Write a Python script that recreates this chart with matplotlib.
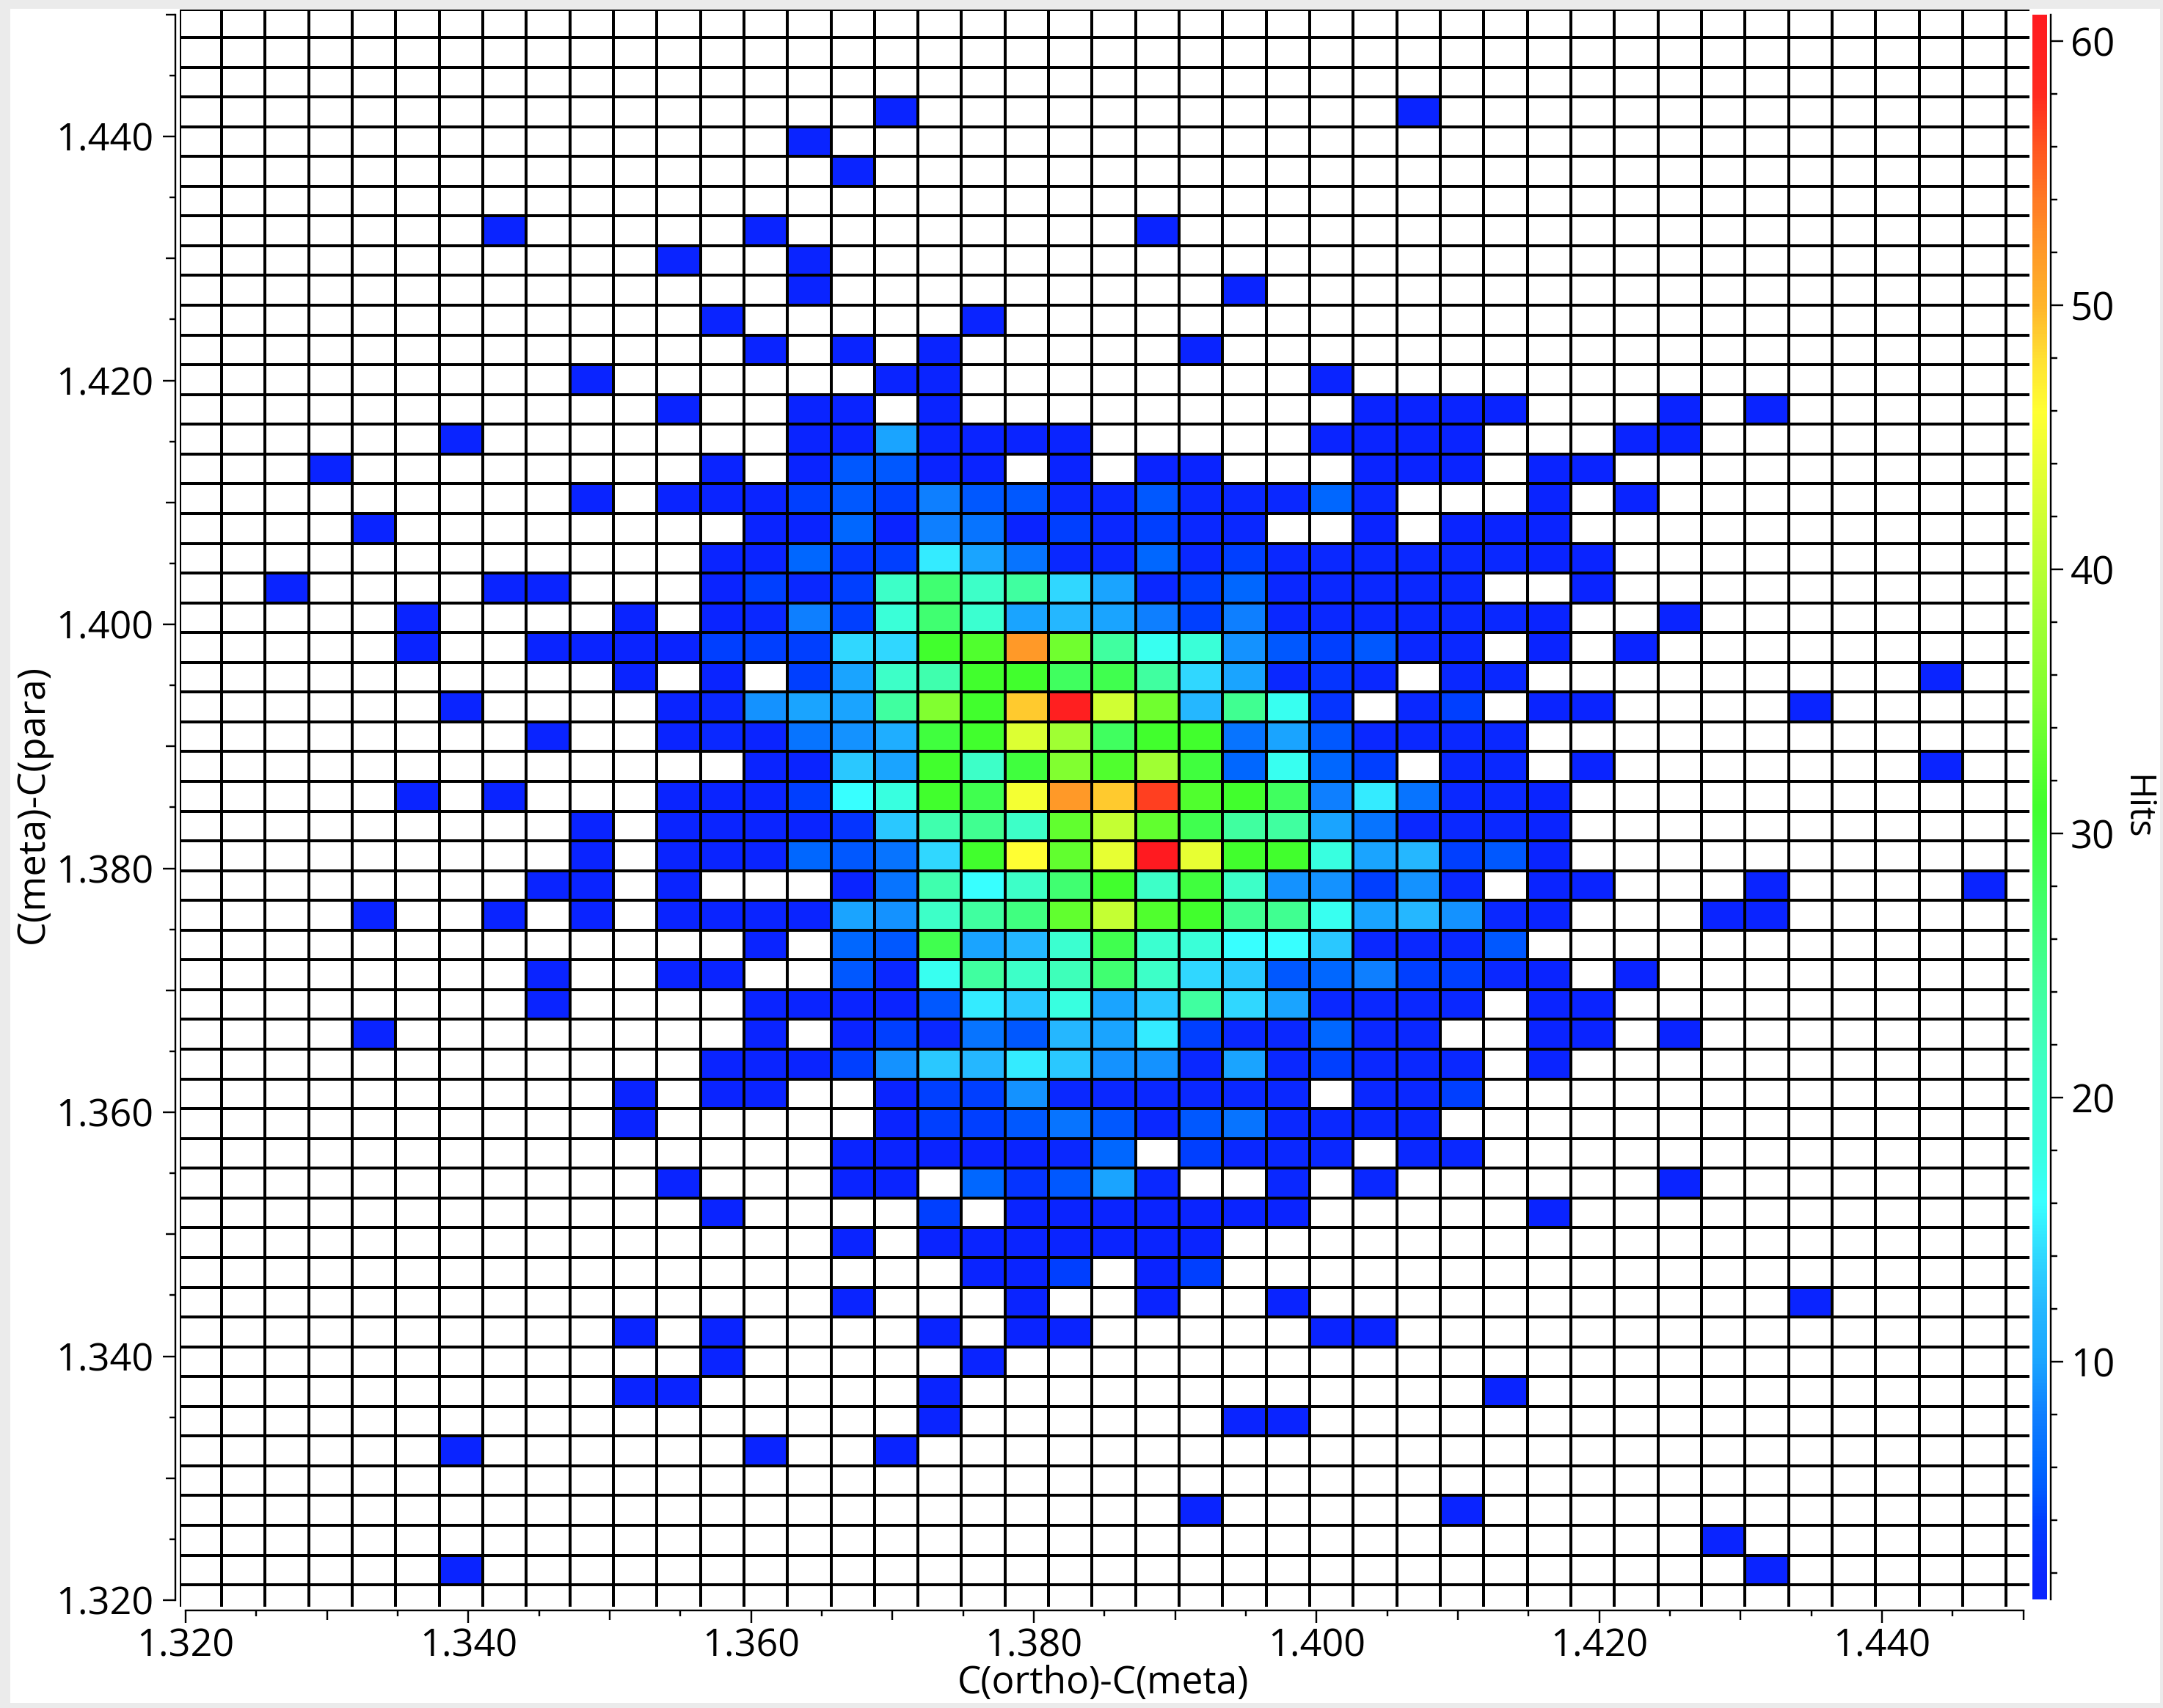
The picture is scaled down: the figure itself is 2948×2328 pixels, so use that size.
import matplotlib
matplotlib.use('Agg')
import matplotlib.pyplot as plt
import numpy as np
from matplotlib.colors import LinearSegmentedColormap, Normalize
from matplotlib.patches import Rectangle
from matplotlib.ticker import FixedLocator, FormatStrFormatter

plt.rcParams['font.family'] = ['Open Sans', 'DejaVu Sans']

W, H, DPI = 2948, 2328, 100
PT = 72 / DPI  # points per pixel

# Bin layout
x_first_line = 1.32254
x_step = 0.003079
y_first_line = 1.44812
y_step = 0.0024397
n_cols = 43
n_rows = 54
x_range = (1.31958, 1.45043)
y_range = (1.31946, 1.45043)

x_major = [1.32, 1.34, 1.36, 1.38, 1.40, 1.42, 1.44]
y_major = [1.32, 1.34, 1.36, 1.38, 1.40, 1.42, 1.44]
x_label = 'C(ortho)-C(meta)'
y_label = 'C(meta)-C(para)'
bar_label = 'Hits'
bar_major = [10, 20, 30, 40, 50, 60]
bar_minor = [2, 4, 6, 8, 12, 14, 16, 18, 22, 24, 26, 28, 32, 34, 36, 38, 42, 44, 46, 48, 52, 54, 56, 58]

# Colour scale: value, colour
scale_values = [1, 2, 4, 5, 6, 8, 10, 12, 14, 16, 18, 21, 24, 27, 31, 35, 38, 42, 46, 48, 50, 52, 54, 56, 58, 61]
scale_colors = ['#0a24ff', '#0a28ff', '#0040ff', '#0058ff', '#0068ff', '#0f80ff', '#1aa5ff', '#25b8ff',
                '#30d8ff', '#38ffff', '#38ffe0', '#3dffc8', '#40ffa0', '#40ff70', '#40ff2d', '#80ff30',
                '#a0ff33', '#d0ff33', '#ffff33', '#ffe033', '#ffb52a', '#ff9a28', '#ff7a25', '#ff5520',
                '#ff2a20', '#ff1a20']

# Hits in the dense part: rows 12 to 42 from the top, columns 11 to 30 from the left
core_first_row = 12
core_first_col = 11
core_hits = [
    [0, 0, 0, 0, 0, 1, 1, 0, 0, 0, 0, 0, 0, 0, 0, 1, 0, 0, 0, 0],
    [1, 0, 0, 1, 1, 0, 1, 0, 0, 0, 0, 0, 0, 0, 0, 0, 1, 1, 1, 1],
    [0, 0, 0, 1, 1, 10, 1, 1, 1, 1, 0, 0, 0, 0, 0, 1, 1, 1, 1, 0],
    [0, 1, 0, 1, 5, 5, 1, 1, 0, 1, 0, 1, 1, 0, 0, 0, 1, 1, 1, 0],
    [1, 1, 1, 4, 5, 4, 8, 5, 5, 2, 2, 5, 2, 2, 2, 6, 2, 0, 0, 0],
    [0, 0, 1, 1, 6, 1, 8, 7, 1, 4, 2, 4, 2, 2, 0, 0, 1, 0, 1, 1],
    [0, 1, 1, 6, 3, 4, 15, 10, 7, 2, 2, 6, 2, 4, 2, 2, 2, 2, 2, 2],
    [0, 1, 4, 2, 4, 21, 27, 21, 24, 14, 10, 2, 4, 6, 2, 2, 2, 2, 2, 0],
    [0, 1, 2, 8, 4, 19, 27, 20, 10, 12, 10, 8, 4, 8, 2, 2, 2, 2, 2, 2],
    [1, 4, 4, 4, 14, 14, 31, 32, 52, 34, 24, 17, 19, 9, 5, 4, 5, 2, 2, 0],
    [0, 1, 0, 4, 10, 21, 23, 31, 31, 28, 29, 24, 14, 10, 2, 3, 2, 0, 2, 2],
    [1, 2, 9, 10, 10, 24, 35, 31, 49, 60, 42, 34, 12, 25, 17, 3, 0, 2, 4, 0],
    [1, 2, 1, 7, 9, 11, 30, 31, 43, 38, 28, 31, 31, 7, 10, 5, 2, 2, 2, 2],
    [0, 0, 1, 1, 13, 10, 31, 21, 30, 35, 32, 38, 30, 6, 17, 6, 4, 0, 2, 2],
    [1, 1, 1, 4, 16, 18, 31, 29, 45, 52, 49, 57, 32, 31, 28, 8, 15, 7, 2, 2],
    [1, 1, 1, 1, 3, 13, 23, 25, 21, 33, 41, 33, 29, 24, 24, 10, 7, 2, 2, 2],
    [1, 1, 1, 6, 5, 7, 14, 31, 46, 33, 44, 61, 44, 31, 31, 18, 10, 12, 4, 5],
    [1, 0, 0, 0, 1, 7, 23, 16, 21, 27, 31, 21, 30, 21, 9, 9, 4, 9, 2, 0],
    [1, 1, 1, 1, 10, 9, 21, 24, 26, 33, 41, 32, 31, 25, 25, 17, 10, 12, 9, 2],
    [0, 0, 1, 0, 6, 5, 29, 10, 12, 20, 29, 20, 19, 16, 16, 13, 2, 2, 2, 5],
    [1, 1, 0, 0, 5, 2, 17, 24, 21, 22, 27, 21, 14, 13, 5, 6, 8, 4, 4, 2],
    [0, 0, 1, 1, 1, 1, 5, 15, 13, 18, 10, 13, 24, 14, 10, 2, 2, 2, 2, 0],
    [0, 0, 1, 0, 1, 4, 2, 7, 5, 12, 10, 15, 4, 2, 2, 6, 2, 2, 0, 0],
    [0, 1, 1, 1, 4, 9, 13, 12, 15, 13, 9, 9, 2, 10, 2, 4, 2, 2, 2, 0],
    [0, 1, 1, 0, 0, 1, 4, 4, 9, 2, 2, 2, 2, 2, 2, 0, 2, 2, 4, 0],
    [0, 0, 0, 0, 0, 1, 4, 4, 5, 7, 5, 2, 5, 7, 2, 2, 2, 2, 0, 0],
    [0, 0, 0, 0, 1, 1, 1, 1, 1, 2, 6, 0, 4, 2, 2, 2, 0, 2, 2, 0],
    [1, 0, 0, 0, 1, 1, 0, 6, 3, 5, 10, 2, 0, 0, 2, 0, 2, 0, 0, 0],
    [0, 1, 0, 0, 0, 0, 4, 0, 1, 1, 1, 1, 1, 1, 1, 0, 0, 0, 0, 0],
    [0, 0, 0, 0, 1, 0, 1, 1, 1, 1, 1, 1, 1, 0, 0, 0, 0, 0, 0, 0],
    [0, 0, 0, 0, 0, 0, 0, 1, 1, 4, 0, 1, 4, 0, 0, 0, 0, 0, 0, 0],
]

# Scattered single hits outside that block: row -> columns
single_hits = {
    3: [16, 28], 4: [14], 5: [15], 7: [7, 13, 22], 8: [11, 14], 9: [14, 24],
    10: [12, 18], 11: [13, 15, 17, 23], 12: [9], 13: [34, 36], 14: [6, 33, 34],
    15: [3, 31, 32], 16: [9, 31, 33], 17: [4, 31], 18: [31, 32],
    19: [2, 7, 8, 32], 20: [5, 10, 31, 34], 21: [5, 8, 9, 10, 31, 33],
    22: [10, 40], 23: [6, 31, 32, 37], 24: [8], 25: [32, 40], 26: [5, 7, 31],
    27: [9, 31], 28: [9, 31], 29: [8, 9, 31, 32, 36, 41], 30: [4, 7, 9, 31, 35, 36],
    32: [8, 31, 33], 33: [8, 31, 32], 34: [4, 31, 32, 34], 35: [31], 36: [10], 37: [10],
    39: [34], 40: [31], 43: [15, 19, 22, 25, 37],
    44: [10, 12, 17, 19, 20, 26, 27], 45: [12, 18], 46: [10, 11, 17, 30],
    47: [17, 24, 25], 48: [6, 13, 16], 50: [23, 29], 51: [35], 52: [6, 36],
}


def pxBox(left, top, right, bottom):  # pixel box of the picture to figure fractions
    return [left / W, 1 - bottom / H, (right - left) / W, (bottom - top) / H]


def buildGrid():
    grid = np.zeros((n_rows, n_cols))
    core = np.array(core_hits)
    grid[core_first_row:core_first_row + core.shape[0],
         core_first_col:core_first_col + core.shape[1]] = core
    for row, cols in single_hits.items():
        for col in cols:
            grid[row, col] = 1
    return grid


def setTicks(axis, major, limits):
    minor = [v for v in np.arange(limits[0], limits[1] + 0.001, 0.005)
             if min(abs(v - m) for m in major) > 0.001]
    axis.set_major_locator(FixedLocator(major))
    axis.set_minor_locator(FixedLocator(minor))
    axis.set_major_formatter(FormatStrFormatter('%.3f'))
    for tick, v in zip(axis.get_minor_ticks(), minor):
        # every 0.01 the tick is a bit longer
        if abs(v * 100 - round(v * 100)) < 0.01:
            tick.tick1line.set_markersize(13 * PT)


hits = buildGrid()

x_edges = x_first_line + x_step * np.arange(-1, n_cols)
x_edges[0] = x_range[0]
y_edges = y_first_line - y_step * np.arange(-1, n_rows)
y_edges[0] = y_range[1]

stops = (np.array(scale_values) - scale_values[0]) / (scale_values[-1] - scale_values[0])
cmap = LinearSegmentedColormap.from_list('hits', list(zip(stops, scale_colors)), N=512)
cmap.set_under('white')
norm = Normalize(vmin=1, vmax=61)

fig = plt.figure(figsize=(W / DPI, H / DPI), dpi=DPI, facecolor='#ebebeb')
fig.add_artist(Rectangle((14 / W, 1 - 2321 / H), (2944 - 14) / W, (2321 - 11.5) / H,
                         transform=fig.transFigure, facecolor='white', edgecolor='none', zorder=-1))

ax = fig.add_axes(pxBox(245, 12.6, 2766, 2190))
ax.patch.set_alpha(0)
mesh = ax.pcolormesh(x_edges, y_edges, hits, cmap=cmap, norm=norm,
                     edgecolors='black', linewidth=4.0 * PT, antialiased=False)
ax.set_xlim(x_range)
ax.set_ylim(y_range)

ax.spines.top.set_visible(False)
ax.spines.right.set_visible(False)
ax.spines.left.set_bounds(1.32, 1.45)
ax.spines.bottom.set_bounds(1.32, 1.45)
ax.spines.left.set_position(('outward', 6 * PT))
ax.spines.bottom.set_position(('outward', 5 * PT))
ax.spines.left.set_linewidth(2.4 * PT)
ax.spines.bottom.set_linewidth(2.4 * PT)

ax.tick_params(axis='both', which='major', length=17 * PT, width=2.4 * PT, labelsize=37.5)
ax.tick_params(axis='both', which='minor', length=8 * PT, width=2.4 * PT)
ax.tick_params(axis='x', which='major', pad=6 * PT)
ax.tick_params(axis='y', which='major', pad=13 * PT)
setTicks(ax.xaxis, x_major, (1.32, 1.45))
setTicks(ax.yaxis, y_major, (1.32, 1.45))

fig.text(1504 / W, 1 - 2294 / H, x_label, ha='center', va='center', fontsize=37)
fig.text(45 / W, 1 - 1096 / H, y_label, ha='center', va='center', rotation=90, fontsize=37.5)

# Colour bar
cax = fig.add_axes(pxBox(2770, 20, 2790, 2180))
bar = fig.colorbar(mesh, cax=cax)
bar.outline.set_visible(False)
cax.spines.right.set_visible(True)
cax.spines.right.set_position(('outward', 5 * PT))
cax.spines.right.set_linewidth(2.4 * PT)
cax.yaxis.set_major_locator(FixedLocator(bar_major))
cax.yaxis.set_minor_locator(FixedLocator(bar_minor))
cax.tick_params(which='major', length=17 * PT, width=2.4 * PT, labelsize=38, pad=10 * PT)
cax.tick_params(which='minor', length=9 * PT, width=2.4 * PT)
fig.text(2911 / W, 1 - 1100 / H, bar_label, ha='center', va='center', rotation=-90, fontsize=35)

fig.savefig('out.png', dpi=DPI, facecolor=fig.get_facecolor())
